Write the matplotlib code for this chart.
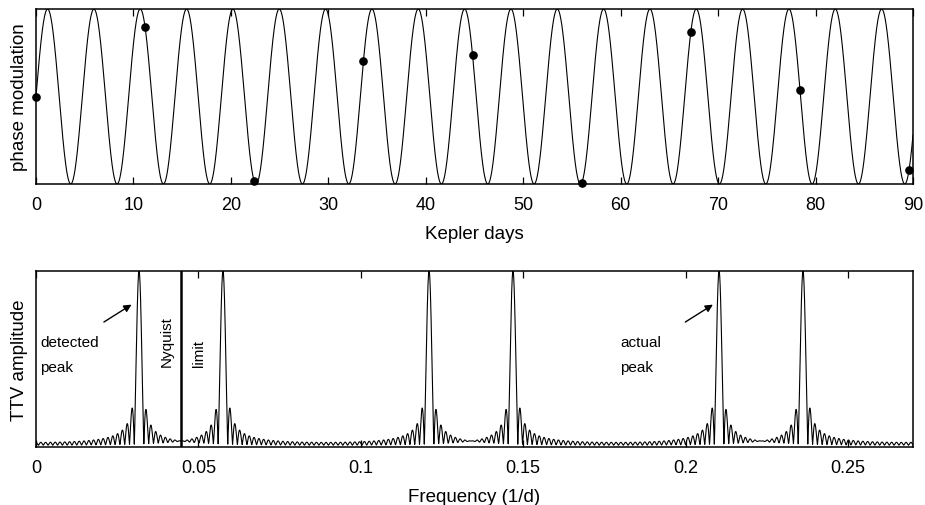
import numpy as np
import matplotlib
matplotlib.use("Agg")
import matplotlib.pyplot as plt

plt.rcParams['font.family'] = ['Liberation Sans', 'DejaVu Sans']

# ---- data ----
signal_freq = 0.2103          # 1/d, "actual peak"
sample_interval = 11.2        # d, spacing of the sampled points
n_spectrum_samples = 61       # samples used for the amplitude spectrum
sample_times = [0.0, 11.2, 22.4, 33.6, 44.8, 56.0, 67.2, 78.4, 89.6]
top_xticks = [0, 10, 20, 30, 40, 50, 60, 70, 80, 90]
bottom_xticks = [0, 0.05, 0.1, 0.15, 0.2, 0.25]
bottom_xticklabels = ["0", "0.05", "0.1", "0.15", "0.2", "0.25"]
nyquist = 1.0 / (2 * sample_interval)

# ---- model curve and samples ----
t_curve = np.linspace(0, 90, 4000)
y_curve = np.sin(2 * np.pi * signal_freq * t_curve)
t_pts = np.array(sample_times)
y_pts = np.sin(2 * np.pi * signal_freq * t_pts)

# ---- amplitude spectrum of the sampled signal ----
n = n_spectrum_samples
t_s = np.arange(n) * sample_interval
y_s = np.sin(2 * np.pi * signal_freq * t_s)
freqs = np.linspace(0, 0.27, 20000)
amp = np.abs(np.exp(-2j * np.pi * np.outer(freqs, t_s)).dot(y_s))
amp /= amp.max()

fig = plt.figure(figsize=(9.25, 5.06), dpi=100)
W, H = 925.0, 506.0
ax1 = fig.add_axes([36 / W, 1 - 185 / H, (913 - 36) / W, (185 - 10) / H])
ax2 = fig.add_axes([36 / W, 1 - 448 / H, (913 - 36) / W, (448 - 272) / H])

for ax in (ax1, ax2):
    for s in ax.spines.values():
        s.set_linewidth(1.1)
    ax.tick_params(axis='x', direction='in', top=True, bottom=True,
                   length=5, width=0.9, labelsize=13, pad=9)
    ax.set_yticks([])

# top panel
ax1.plot(t_curve, y_curve, color='black', lw=0.8)
ax1.plot(t_pts, y_pts, 'o', color='black', ms=5.2, clip_on=False, zorder=5)
ax1.set_xlim(0, 90)
ax1.set_ylim(-1, 1)
ax1.set_xticks(top_xticks)
ax1.set_xlabel("Kepler days", fontsize=13.5, labelpad=8)
ax1.set_ylabel("phase modulation", fontsize=13.5, labelpad=6)

# bottom panel
ax2.plot(freqs, amp, color='black', lw=0.8)
ax2.axvline(nyquist, color='black', lw=1.8)
ax2.set_xlim(0, 0.27)
ax2.set_ylim(0, 1)
ax2.set_xticks(bottom_xticks)
ax2.set_xticklabels(bottom_xticklabels)
ax2.set_xlabel("Frequency (1/d)", fontsize=13.5, labelpad=8)
ax2.set_ylabel("TTV amplitude", fontsize=13.5, labelpad=6)

ax2.text(0.0012, 0.574, "detected", fontsize=11, va='baseline')
ax2.text(0.0012, 0.432, "peak", fontsize=11, va='baseline')
ax2.text(0.1799, 0.574, "actual", fontsize=11, va='baseline')
ax2.text(0.1799, 0.432, "peak", fontsize=11, va='baseline')
ax2.text(0.0402, 0.46, "Nyquist", fontsize=11, rotation=90,
         ha='center', va='bottom')
ax2.text(0.0502, 0.46, "limit", fontsize=11, rotation=90,
         ha='center', va='bottom')

arrow = dict(arrowstyle='-|>', color='black', lw=1.0, mutation_scale=11,
             shrinkA=0, shrinkB=0)
ax2.annotate("", xy=(0.0294, 0.809), xytext=(0.0209, 0.71),
             arrowprops=arrow)
ax2.annotate("", xy=(0.2084, 0.809), xytext=(0.1999, 0.71),
             arrowprops=arrow)

fig.savefig("out.png", dpi=100)
